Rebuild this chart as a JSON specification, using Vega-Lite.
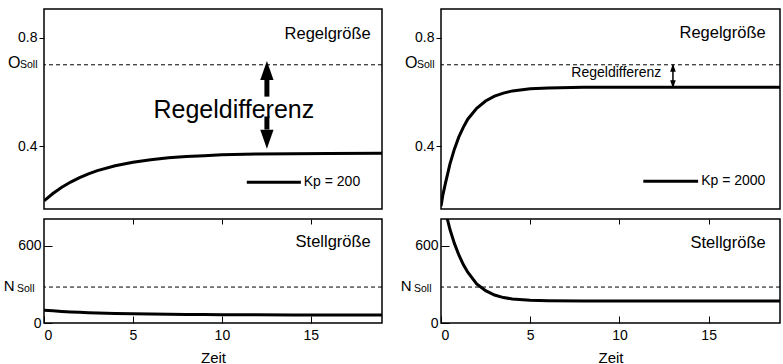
{
  "$schema": "https://vega.github.io/schema/vega-lite/v6.json",
  "padding": {"left": 2, "top": 8, "right": 0, "bottom": 0},
  "background": "white",
  "datasets": {
    "curves": [
      {"kp": 200, "t": 0, "O": 0.200, "N": 100},
      {"kp": 200, "t": 0.5, "O": 0.227, "N": 95},
      {"kp": 200, "t": 1, "O": 0.250, "N": 90},
      {"kp": 200, "t": 1.5, "O": 0.269, "N": 86},
      {"kp": 200, "t": 2, "O": 0.285, "N": 83},
      {"kp": 200, "t": 2.5, "O": 0.299, "N": 80},
      {"kp": 200, "t": 3, "O": 0.311, "N": 78},
      {"kp": 200, "t": 4, "O": 0.329, "N": 74},
      {"kp": 200, "t": 5, "O": 0.342, "N": 72},
      {"kp": 200, "t": 6, "O": 0.351, "N": 70},
      {"kp": 200, "t": 7, "O": 0.358, "N": 68},
      {"kp": 200, "t": 8, "O": 0.363, "N": 67},
      {"kp": 200, "t": 9, "O": 0.366, "N": 66},
      {"kp": 200, "t": 10, "O": 0.369, "N": 65},
      {"kp": 200, "t": 12, "O": 0.372, "N": 64},
      {"kp": 200, "t": 14, "O": 0.373, "N": 63},
      {"kp": 200, "t": 16, "O": 0.374, "N": 62},
      {"kp": 200, "t": 19, "O": 0.375, "N": 62},
      {"kp": 2000, "t": 0, "O": 0.180, "N": 1040},
      {"kp": 2000, "t": 0.1, "O": 0.220, "N": 960},
      {"kp": 2000, "t": 0.25, "O": 0.265, "N": 870},
      {"kp": 2000, "t": 0.5, "O": 0.335, "N": 730},
      {"kp": 2000, "t": 0.75, "O": 0.390, "N": 620},
      {"kp": 2000, "t": 1, "O": 0.435, "N": 530},
      {"kp": 2000, "t": 1.25, "O": 0.470, "N": 455},
      {"kp": 2000, "t": 1.5, "O": 0.500, "N": 395},
      {"kp": 2000, "t": 2, "O": 0.540, "N": 305},
      {"kp": 2000, "t": 2.5, "O": 0.567, "N": 252},
      {"kp": 2000, "t": 3, "O": 0.585, "N": 218},
      {"kp": 2000, "t": 3.5, "O": 0.596, "N": 198},
      {"kp": 2000, "t": 4, "O": 0.604, "N": 187},
      {"kp": 2000, "t": 5, "O": 0.612, "N": 178},
      {"kp": 2000, "t": 6, "O": 0.615, "N": 174},
      {"kp": 2000, "t": 8, "O": 0.617, "N": 172},
      {"kp": 2000, "t": 10, "O": 0.617, "N": 172},
      {"kp": 2000, "t": 14, "O": 0.617, "N": 172},
      {"kp": 2000, "t": 19, "O": 0.617, "N": 172}
    ]
  },
  "columns": 2,
  "spacing": {"row": 10, "column": 59},
  "bounds": "flush",
  "concat": [
    {
      "width": 338, "height": 200,
      "resolve": {"axis": {"y": "independent"}},
      "layer": [
        {"data": {"name": "curves"}, "transform": [{"filter": "datum.kp == 200"}],
         "mark": {"type": "line", "color": "black", "strokeWidth": 3, "clip": true},
         "encoding": {
           "x": {"field": "t", "type": "quantitative", "scale": {"domain": [0, 19], "nice": false}, "axis": {"values": [5, 10, 15], "labels": false, "tickSize": -7, "title": null}},
           "y": {"field": "O", "type": "quantitative", "scale": {"domain": [0.17, 0.905], "nice": false, "zero": false}, "axis": {"orient": "left", "values": [0.4, 0.8], "format": ".1f", "tickSize": 5, "labelPadding": 2, "title": null}}
         }},
        {"data": {"values": [{}]},
         "mark": {"type": "rule", "color": "black", "strokeWidth": 1, "strokeDash": [4, 3]},
         "encoding": {"y": {"datum": 0.7, "type": "quantitative", "axis": {"orient": "left", "values": [0.7], "ticks": false, "labelExpr": "'Soll'", "labelFontSize": 10.5, "labelPadding": 7, "labelBaseline": "alphabetic", "labelOffset": 3, "title": null}}}},
        {"data": {"values": [{}]},
         "mark": {"type": "text", "text": "Regelgröße", "align": "right", "baseline": "alphabetic", "fontSize": 16.5},
         "encoding": {
           "x": {"datum": 18.37, "type": "quantitative", "axis": null},
           "y": {"datum": 0.794, "type": "quantitative", "axis": {"orient": "left", "values": [0.7], "ticks": false, "labelExpr": "'O'", "labelFontSize": 16, "labelPadding": 24, "labelBaseline": "alphabetic", "labelOffset": 3, "title": null}}}},
        {"data": {"values": [{}]},
         "mark": {"type": "text", "text": "Regeldifferenz", "align": "center", "baseline": "alphabetic", "fontSize": 25},
         "encoding": {"x": {"datum": 10.67, "type": "quantitative", "axis": null}, "y": {"datum": 0.503, "type": "quantitative", "axis": null}}},
        {"data": {"values": [{}]},
         "mark": {"type": "rule", "color": "black", "strokeWidth": 5},
         "encoding": {"x": {"datum": 12.53, "type": "quantitative", "axis": null}, "y": {"datum": 0.646, "type": "quantitative", "axis": null}, "y2": {"datum": 0.583}}},
        {"data": {"values": [{}]},
         "mark": {"type": "rule", "color": "black", "strokeWidth": 5},
         "encoding": {"x": {"datum": 12.53, "type": "quantitative", "axis": null}, "y": {"datum": 0.51, "type": "quantitative", "axis": null}, "y2": {"datum": 0.462}}},
        {"data": {"values": [{}]},
         "mark": {"type": "point", "shape": "M-0.7,1L0,-1L0.7,1Z", "size": 361, "filled": true, "color": "black", "opacity": 1},
         "encoding": {"x": {"datum": 12.53, "type": "quantitative", "axis": null}, "y": {"datum": 0.679, "type": "quantitative", "axis": null}}},
        {"data": {"values": [{}]},
         "mark": {"type": "point", "shape": "M-0.7,-1L0,1L0.7,-1Z", "size": 361, "filled": true, "color": "black", "opacity": 1},
         "encoding": {"x": {"datum": 12.53, "type": "quantitative", "axis": null}, "y": {"datum": 0.426, "type": "quantitative", "axis": null}}},
        {"data": {"values": [{}]},
         "mark": {"type": "rule", "color": "black", "strokeWidth": 3},
         "encoding": {"x": {"datum": 11.4, "type": "quantitative", "axis": null}, "x2": {"datum": 14.44}, "y": {"datum": 0.268, "type": "quantitative", "axis": null}}},
        {"data": {"values": [{}]},
         "mark": {"type": "text", "text": "Kp = 200", "align": "left", "baseline": "middle", "fontSize": 14},
         "encoding": {"x": {"datum": 14.6, "type": "quantitative", "axis": null}, "y": {"datum": 0.268, "type": "quantitative", "axis": null}}}
      ]
    },
    {
      "width": 339, "height": 200,
      "resolve": {"axis": {"y": "independent"}},
      "layer": [
        {"data": {"name": "curves"}, "transform": [{"filter": "datum.kp == 2000"}],
         "mark": {"type": "line", "color": "black", "strokeWidth": 3, "clip": true},
         "encoding": {
           "x": {"field": "t", "type": "quantitative", "scale": {"domain": [0, 19], "nice": false}, "axis": {"values": [5, 10, 15], "labels": false, "tickSize": -7, "title": null}},
           "y": {"field": "O", "type": "quantitative", "scale": {"domain": [0.17, 0.905], "nice": false, "zero": false}, "axis": {"orient": "left", "values": [0.4, 0.8], "format": ".1f", "tickSize": 5, "labelPadding": 2, "title": null}}
         }},
        {"data": {"values": [{}]},
         "mark": {"type": "rule", "color": "black", "strokeWidth": 1, "strokeDash": [4, 3]},
         "encoding": {"y": {"datum": 0.7, "type": "quantitative", "axis": {"orient": "left", "values": [0.7], "ticks": false, "labelExpr": "'Soll'", "labelFontSize": 10.5, "labelPadding": 7, "labelBaseline": "alphabetic", "labelOffset": 3, "title": null}}}},
        {"data": {"values": [{}]},
         "mark": {"type": "text", "text": "Regelgröße", "align": "right", "baseline": "alphabetic", "fontSize": 16.5},
         "encoding": {
           "x": {"datum": 18.2, "type": "quantitative", "axis": null},
           "y": {"datum": 0.797, "type": "quantitative", "axis": {"orient": "left", "values": [0.7], "ticks": false, "labelExpr": "'O'", "labelFontSize": 16, "labelPadding": 24, "labelBaseline": "alphabetic", "labelOffset": 3, "title": null}}}},
        {"data": {"values": [{}]},
         "mark": {"type": "text", "text": "Regeldifferenz", "align": "right", "baseline": "middle", "fontSize": 14},
         "encoding": {"x": {"datum": 12.35, "type": "quantitative", "axis": null}, "y": {"datum": 0.668, "type": "quantitative", "axis": null}}},
        {"data": {"values": [{}]},
         "mark": {"type": "rule", "color": "black", "strokeWidth": 1.5},
         "encoding": {"x": {"datum": 13.0, "type": "quantitative", "axis": null}, "y": {"datum": 0.7, "type": "quantitative", "axis": null}, "y2": {"datum": 0.617}}},
        {"data": {"values": [{}]},
         "mark": {"type": "point", "shape": "M-0.7,1L0,-1L0.7,1Z", "size": 64, "filled": true, "color": "black", "opacity": 1},
         "encoding": {"x": {"datum": 13.0, "type": "quantitative", "axis": null}, "y": {"datum": 0.689, "type": "quantitative", "axis": null}}},
        {"data": {"values": [{}]},
         "mark": {"type": "point", "shape": "M-0.7,-1L0,1L0.7,-1Z", "size": 64, "filled": true, "color": "black", "opacity": 1},
         "encoding": {"x": {"datum": 13.0, "type": "quantitative", "axis": null}, "y": {"datum": 0.628, "type": "quantitative", "axis": null}}},
        {"data": {"values": [{}]},
         "mark": {"type": "rule", "color": "black", "strokeWidth": 3},
         "encoding": {"x": {"datum": 11.34, "type": "quantitative", "axis": null}, "x2": {"datum": 14.41}, "y": {"datum": 0.272, "type": "quantitative", "axis": null}}},
        {"data": {"values": [{}]},
         "mark": {"type": "text", "text": "Kp = 2000", "align": "left", "baseline": "middle", "fontSize": 14},
         "encoding": {"x": {"datum": 14.58, "type": "quantitative", "axis": null}, "y": {"datum": 0.272, "type": "quantitative", "axis": null}}}
      ]
    },
    {
      "width": 338, "height": 104,
      "resolve": {"axis": {"x": "independent", "y": "independent"}},
      "layer": [
        {"data": {"name": "curves"}, "transform": [{"filter": "datum.kp == 200"}],
         "mark": {"type": "line", "color": "black", "strokeWidth": 3, "clip": true},
         "encoding": {
           "x": {"field": "t", "type": "quantitative", "scale": {"domain": [0, 19], "nice": false}, "axis": {"orient": "bottom", "values": [0, 5, 10, 15], "tickSize": -7, "labelPadding": 12, "title": "Zeit", "titlePadding": 8}},
           "y": {"field": "N", "type": "quantitative", "scale": {"domain": [0, 810], "nice": false}, "axis": {"orient": "left", "values": [0, 600], "format": "d", "tickSize": -8, "labelPadding": 11, "title": null}}
         }},
        {"data": {"values": [{}]},
         "mark": {"type": "rule", "color": "black", "strokeWidth": 1, "strokeDash": [4, 3]},
         "encoding": {"y": {"datum": 280, "type": "quantitative", "axis": {"orient": "left", "values": [280], "ticks": false, "labelExpr": "'Soll'", "labelFontSize": 10.5, "labelPadding": 10, "labelBaseline": "alphabetic", "labelOffset": 4, "title": null}}}},
        {"data": {"values": [{}]},
         "mark": {"type": "text", "text": "Stellgröße", "align": "right", "baseline": "alphabetic", "fontSize": 16.5},
         "encoding": {
           "x": {"datum": 18.37, "type": "quantitative", "axis": {"orient": "top", "values": [5, 10, 15], "labels": false, "tickSize": -5, "title": null}},
           "y": {"datum": 592, "type": "quantitative", "axis": {"orient": "left", "values": [280], "ticks": false, "labelExpr": "'N'", "labelFontSize": 15, "labelPadding": 30, "labelBaseline": "alphabetic", "labelOffset": 3, "title": null}}}}
      ]
    },
    {
      "width": 339, "height": 104,
      "resolve": {"axis": {"x": "independent", "y": "independent"}},
      "layer": [
        {"data": {"name": "curves"}, "transform": [{"filter": "datum.kp == 2000"}],
         "mark": {"type": "line", "color": "black", "strokeWidth": 3, "clip": true},
         "encoding": {
           "x": {"field": "t", "type": "quantitative", "scale": {"domain": [0, 19], "nice": false}, "axis": {"orient": "bottom", "values": [0, 5, 10, 15], "tickSize": -7, "labelPadding": 12, "title": "Zeit", "titlePadding": 8}},
           "y": {"field": "N", "type": "quantitative", "scale": {"domain": [0, 810], "nice": false}, "axis": {"orient": "left", "values": [0, 600], "format": "d", "tickSize": -8, "labelPadding": 11, "title": null}}
         }},
        {"data": {"values": [{}]},
         "mark": {"type": "rule", "color": "black", "strokeWidth": 1, "strokeDash": [4, 3]},
         "encoding": {"y": {"datum": 280, "type": "quantitative", "axis": {"orient": "left", "values": [280], "ticks": false, "labelExpr": "'Soll'", "labelFontSize": 10.5, "labelPadding": 10, "labelBaseline": "alphabetic", "labelOffset": 4, "title": null}}}},
        {"data": {"values": [{}]},
         "mark": {"type": "text", "text": "Stellgröße", "align": "right", "baseline": "alphabetic", "fontSize": 16.5},
         "encoding": {
           "x": {"datum": 18.2, "type": "quantitative", "axis": {"orient": "top", "values": [5, 10, 15], "labels": false, "tickSize": -5, "title": null}},
           "y": {"datum": 586, "type": "quantitative", "axis": {"orient": "left", "values": [280], "ticks": false, "labelExpr": "'N'", "labelFontSize": 15, "labelPadding": 30, "labelBaseline": "alphabetic", "labelOffset": 3, "title": null}}}}
      ]
    }
  ],
  "config": {
    "font": "Liberation Sans",
    "view": {"stroke": "black", "strokeWidth": 1.5},
    "axis": {"grid": false, "domain": false, "labelFont": "Liberation Sans", "labelFontSize": 14, "labelColor": "black", "tickColor": "black", "tickWidth": 1, "titleFont": "Liberation Sans", "titleFontSize": 15, "titleFontWeight": "normal", "titleColor": "black"},
    "text": {"font": "Liberation Sans", "color": "black"}
  }
}
